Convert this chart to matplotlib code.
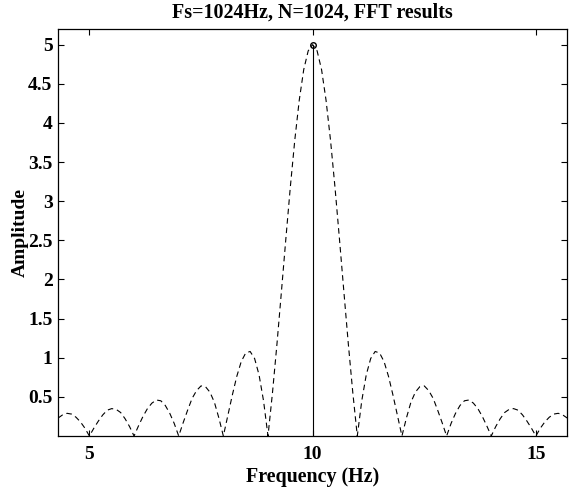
import matplotlib
matplotlib.use("Agg")
import matplotlib.pyplot as plt

# Frequency axis (Hz) and magnitude of the zero-padded spectrum
freq = [4.3, 4.4, 4.5, 4.6, 4.7, 4.8, 4.9, 5.0, 5.1, 5.2, 5.3, 5.4, 5.5, 5.6, 5.7, 5.8, 5.9,
        6.0, 6.1, 6.2, 6.3, 6.4, 6.5, 6.6, 6.7, 6.8, 6.9, 7.0, 7.1, 7.2, 7.3, 7.4, 7.5, 7.6,
        7.7, 7.8, 7.9, 8.0, 8.1, 8.2, 8.3, 8.4, 8.5, 8.6, 8.7, 8.8, 8.9, 9.0, 9.1, 9.2, 9.3,
        9.4, 9.5, 9.6, 9.7, 9.8, 9.9, 10.0, 10.1, 10.2, 10.3, 10.4, 10.5, 10.6, 10.7, 10.8,
        10.9, 11.0, 11.1, 11.2, 11.3, 11.4, 11.5, 11.6, 11.7, 11.8, 11.9, 12.0, 12.1, 12.2,
        12.3, 12.4, 12.5, 12.6, 12.7, 12.8, 12.9, 13.0, 13.1, 13.2, 13.3, 13.4, 13.5, 13.6,
        13.7, 13.8, 13.9, 14.0, 14.1, 14.2, 14.3, 14.4, 14.5, 14.6, 14.7, 14.8, 14.9, 15.0,
        15.1, 15.2, 15.3, 15.4, 15.5, 15.6, 15.7]
amplitude = [0.23, 0.27, 0.29, 0.28, 0.24, 0.18, 0.10, 0.00, 0.10, 0.19, 0.27, 0.33, 0.35, 0.34,
             0.30, 0.22, 0.12, 0.00, 0.13, 0.25, 0.35, 0.42, 0.46, 0.45, 0.39, 0.29, 0.16,
             0.00, 0.17, 0.33, 0.48, 0.58, 0.64, 0.63, 0.56, 0.43, 0.23, 0.00, 0.26, 0.52,
             0.76, 0.95, 1.06, 1.08, 0.99, 0.78, 0.45, 0.00, 0.55, 1.17, 1.84, 2.52, 3.18,
             3.78, 4.29, 4.68, 4.92, 5.00, 4.92, 4.68, 4.29, 3.78, 3.18, 2.52, 1.84, 1.17,
             0.55, 0.00, 0.45, 0.78, 0.99, 1.08, 1.06, 0.95, 0.76, 0.52, 0.26, 0.00, 0.23,
             0.43, 0.56, 0.63, 0.64, 0.58, 0.48, 0.33, 0.17, 0.00, 0.16, 0.29, 0.39, 0.45,
             0.46, 0.42, 0.35, 0.25, 0.13, 0.00, 0.12, 0.22, 0.30, 0.34, 0.35, 0.33, 0.27,
             0.19, 0.10, 0.00, 0.10, 0.18, 0.24, 0.28, 0.29, 0.27, 0.23]

# FFT bin (stem)
stem_freq = [10]
stem_amp = [5.0]

xticks = [5, 10, 15]
yticks = [0.5, 1, 1.5, 2, 2.5, 3, 3.5, 4, 4.5, 5]
ytick_labels = ["0.5", "1", "1.5", "2", "2.5", "3", "3.5", "4", "4.5", "5"]

plt.rcParams['font.family'] = ['Liberation Serif', 'DejaVu Serif']
plt.rcParams['font.weight'] = 'bold'

fig = plt.figure(figsize=(5.70, 4.91), dpi=100)
ax = fig.add_axes([0.102, 0.112, 0.893, 0.829])

ax.plot(freq, amplitude, color='black', linestyle=(0, (5, 3.5)), linewidth=0.8)
for f, a in zip(stem_freq, stem_amp):
    ax.vlines(f, 0, a, color='black', linewidth=0.8)
ax.plot(stem_freq, stem_amp, 'o', markerfacecolor='none', markeredgecolor='black',
        markersize=4, markeredgewidth=1.0)

ax.set_xlim(4.3, 15.7)
ax.set_ylim(0, 5.2)
ax.set_xticks(xticks)
ax.set_xticklabels([str(t) for t in xticks])
ax.set_yticks(yticks)
ax.set_yticklabels(ytick_labels)
ax.tick_params(direction='in', top=True, right=True, length=4, width=0.8,
               labelsize=14)
ax.tick_params(axis='x', pad=7)
ax.tick_params(axis='y', pad=4)
for lab in ax.get_xticklabels() + ax.get_yticklabels():
    lab.set_fontweight('bold')
for s in ax.spines.values():
    s.set_linewidth(0.9)

ax.set_title('Fs=1024Hz, N=1024, FFT results', fontsize=14.4, fontweight='bold', pad=8)
ax.set_xlabel('Frequency (Hz)', fontsize=14.4, fontweight='bold', labelpad=3)
ax.set_ylabel('Amplitude', fontsize=14, fontweight='bold', labelpad=-0.5)

fig.savefig('out.png', dpi=100)
